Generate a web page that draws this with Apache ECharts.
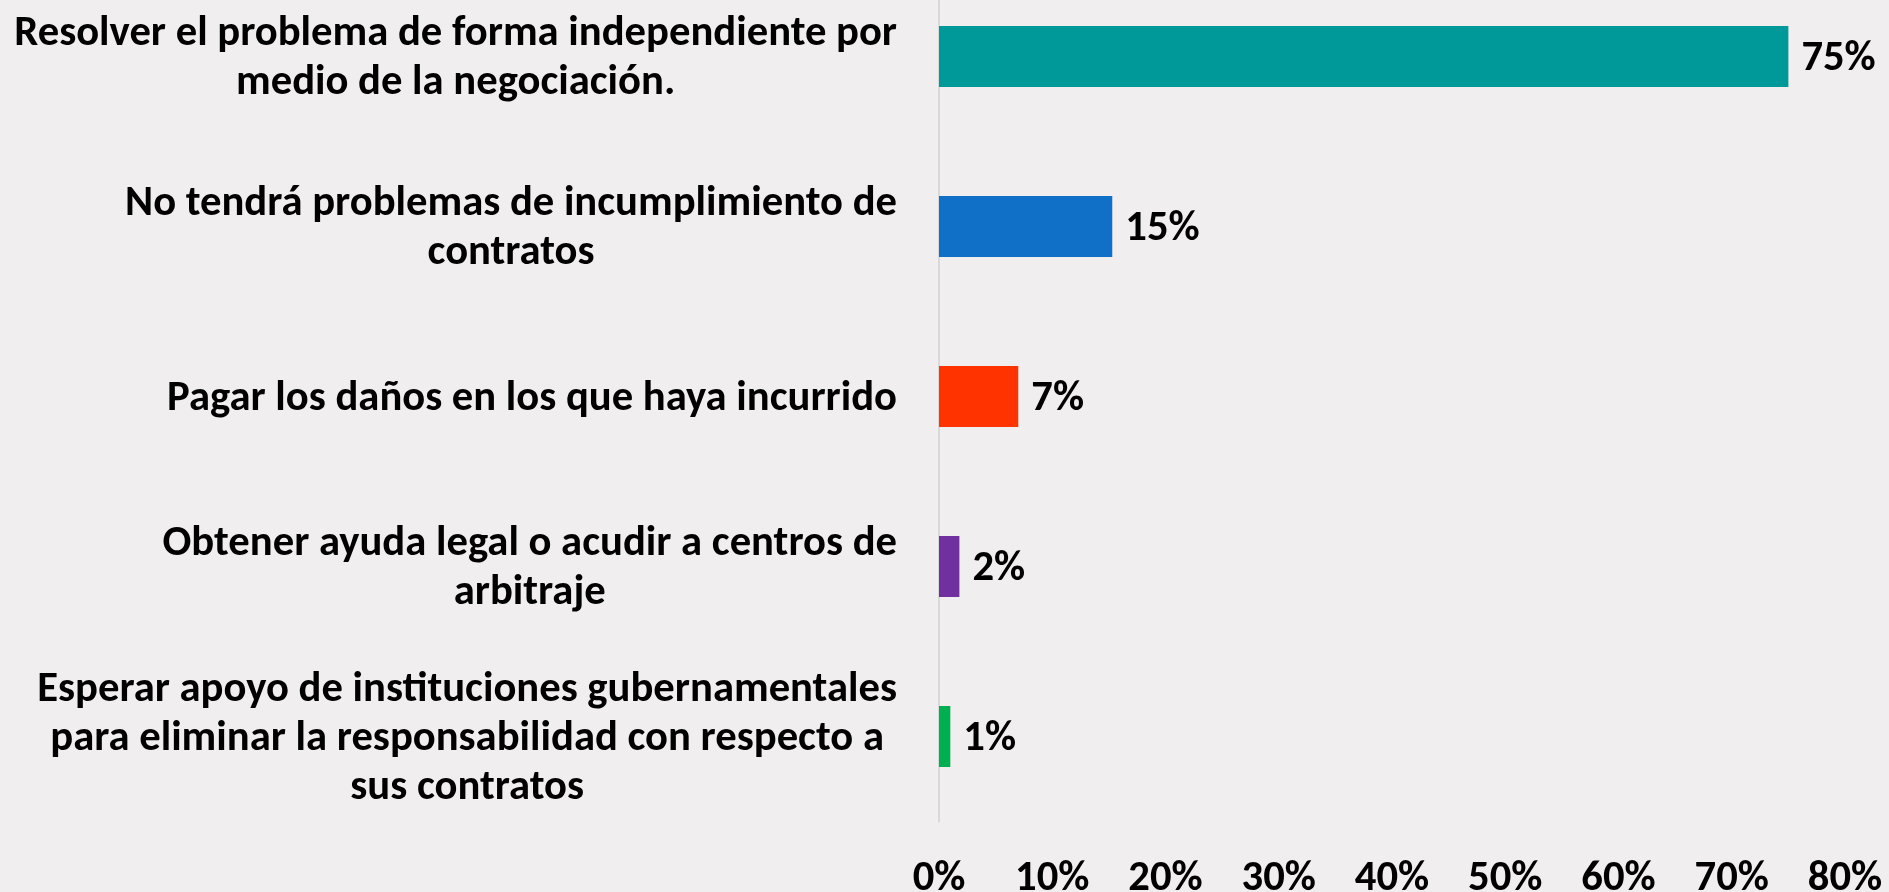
<!DOCTYPE html>
<html>
<head>
<meta charset="utf-8">
<title>Respuestas</title>
<script src="https://cdn.jsdelivr.net/npm/echarts@6/dist/echarts.min.js"></script>
<style>
  html, body { margin: 0; padding: 0; background: #f0eeef; }
  #chart { width: 1889px; height: 892px; }
</style>
</head>
<body>
<div id="chart"></div>
<script>
// categorias (de arriba hacia abajo), con sus saltos de linea
const categories = [
  'Resolver el problema de forma independiente por\nmedio de la negociación.',
  'No tendrá problemas de incumplimiento de\ncontratos',
  'Pagar los daños en los que haya incurrido',
  'Obtener ayuda legal o acudir a centros de\narbitraje',
  'Esperar apoyo de instituciones gubernamentales\npara eliminar la responsabilidad con respecto a\nsus contratos'
]
const values = [0.75, 0.153, 0.07, 0.018, 0.01]
const barColors = ['#009999', '#1070C8', '#FF3300', '#7030A0', '#00B050']
const xTicks = [0, 0.1, 0.2, 0.3, 0.4, 0.5, 0.6, 0.7, 0.8]

const FONT = 'Carlito, Lato, sans-serif'
const pct = v => Math.round(v * 100) + '%'

const chart = echarts.init(document.getElementById('chart'))

const option = {
  backgroundColor: '#f0eeef',
  animation: false,
  grid: {
    left: 939,
    right: 44,
    top: -28.5,
    height: 850,
    containLabel: false,
    outerBoundsMode: 'none'
  },
  xAxis: {
    type: 'value',
    min: xTicks[0],
    max: xTicks[xTicks.length - 1],
    interval: 0.1,
    axisLine: { show: false },
    axisTick: { show: false },
    splitLine: { show: false },
    axisLabel: {
      margin: 36,
      formatter: pct,
      color: '#000',
      fontFamily: FONT,
      fontWeight: 'bold',
      fontSize: 42.67
    }
  },
  yAxis: {
    type: 'category',
    inverse: true,
    data: categories,
    axisLine: { show: true, lineStyle: { color: '#d9d9d9', width: 2 } },
    axisTick: { show: false },
    splitLine: { show: false },
    axisLabel: {
      margin: 42,
      align: 'right',
      padding: [5, 0, 0, 0],
      // cada linea centrada dentro del bloque, como en Excel
      formatter: v => v.split('\n').map(l => '{c|' + l + '}').join('\n'),
      rich: {
        c: {
          align: 'center',
          color: '#000',
          fontFamily: FONT,
          fontWeight: 'bold',
          fontSize: 42.67,
          lineHeight: 49
        }
      }
    }
  },
  series: [
    {
      type: 'bar',
      data: values.map((v, i) => ({ value: v, itemStyle: { color: barColors[i] } })),
      barWidth: 61,
      label: {
        show: true,
        position: 'right',
        distance: 13,
        offset: [0, 3],
        formatter: p => pct(p.value),
        color: '#000',
        fontFamily: FONT,
        fontWeight: 'bold',
        fontSize: 42.67
      }
    }
  ]
}

chart.setOption(option)
window.addEventListener('resize', () => chart.resize())
</script>
</body>
</html>
